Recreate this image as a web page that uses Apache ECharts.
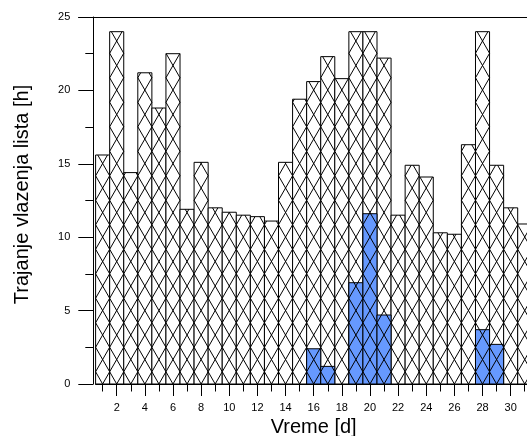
<!DOCTYPE html>
<html>
<head>
<meta charset="utf-8">
<script src="https://cdn.jsdelivr.net/npm/echarts@6/dist/echarts.min.js"></script>
<style>
  html, body { margin: 0; padding: 0; background: #fff; }
  #chart { width: 527px; height: 436px; }
</style>
</head>
<body>
<div id="chart"></div>
<script>
// Days of the month
const days = ['1', '2', '3', '4', '5', '6', '7', '8', '9', '10', '11', '12', '13', '14', '15', '16',
              '17', '18', '19', '20', '21', '22', '23', '24', '25', '26', '27', '28', '29', '30', '31'];

// Leaf wetness duration per day [h]
const wetnessHours = [15.6, 24.0, 14.4, 21.2, 18.8, 22.5, 11.9, 15.1, 12.0, 11.7, 11.5, 11.4, 11.1, 15.1, 19.4, 20.6,
                      22.3, 20.8, 24.0, 24.0, 22.2, 11.5, 14.9, 14.1, 10.3, 10.2, 16.3, 24.0, 14.9, 12.0, 10.9];

// Highlighted part of the wetness duration [h]
const highlightHours = [null, null, null, null, null, null, null, null, null, null, null, null, null, null, null, 2.4,
                        1.2, null, 6.9, 11.6, 4.7, null, null, null, null, null, null, 3.7, 2.7, null, null];

// Y axis range and step
const yMin = 0, yMax = 25, yStep = 5;

// Layout
const W = 527, H = 436;
const GRID_LEFT = 95.6, GRID_TOP = 17, GRID_BOTTOM = 52;
const BAND = 14.07;
const GRID_RIGHT = W - GRID_LEFT - BAND * days.length;
const AXIS_SHIFT = 2.3;
const HATCH_PERIOD = 24.5;   // vertical repeat of the cross-hatch
const FONT = 'Liberation Sans, Arial, sans-serif';

// [dayIndex, hours] pairs for the custom bar series
const toPairs = (arr) => arr.map((v, i) => (v == null ? null : [i, v])).filter(Boolean);

// Clip a segment to the vertical span [yTop, yBot]
function clipSegment(x1, y1, x2, y2, yTop, yBot) {
  const dy = y2 - y1;
  let t0 = 0, t1 = 1;
  if (dy === 0) {
    if (y1 < yTop || y1 > yBot) return null;
  } else {
    const ta = (yTop - y1) / dy, tb = (yBot - y1) / dy;
    t0 = Math.max(0, Math.min(ta, tb));
    t1 = Math.min(1, Math.max(ta, tb));
    if (t1 <= t0) return null;
  }
  const dx = x2 - x1;
  return { x1: x1 + dx * t0, y1: y1 + dy * t0, x2: x1 + dx * t1, y2: y1 + dy * t1 };
}

// Bar filled with a cross-hatch; the lattice is anchored on the baseline,
// so the lines run on continuously from one bar to the next
function hatchedBar(bg) {
  return function (params, api) {
    const idx = api.value(0);
    const val = api.value(1);
    const base = api.coord([idx, 0]);
    const top = api.coord([idx, val]);
    const w = api.size([1, 0])[0];
    const L = base[0] - w / 2, R = L + w;
    const yb = base[1], yt = top[1];
    const P = HATCH_PERIOD;
    const children = [{
      type: 'rect',
      shape: { x: L, y: yt, width: w, height: yb - yt },
      style: { fill: bg, stroke: null }
    }];
    const kMax = Math.ceil((yb - yt) / P) + 1;
    for (let k = -1; k <= kMax; k++) {
      const c = yb - P * k;
      const a = clipSegment(L, c - P / 2, R, c + P / 2, yt, yb);
      const b = clipSegment(L, c + P / 2, R, c - P / 2, yt, yb);
      if (a) children.push({ type: 'line', shape: a, style: { stroke: '#000', lineWidth: 1 } });
      if (b) children.push({ type: 'line', shape: b, style: { stroke: '#000', lineWidth: 1 } });
    }
    children.push({
      type: 'rect',
      shape: { x: L, y: yt, width: w, height: yb - yt },
      style: { fill: null, stroke: '#000', lineWidth: 1 }
    });
    return { type: 'group', children: children };
  };
}

const isEven = (i) => (i + 1) % 2 === 0;
const isOdd = (i) => (i + 1) % 2 === 1;

const chart = echarts.init(document.getElementById('chart'), null, { renderer: 'canvas' });
chart.setOption({
  animation: false,
  backgroundColor: '#fff',
  textStyle: { fontFamily: FONT },
  grid: {
    left: GRID_LEFT, top: GRID_TOP, bottom: GRID_BOTTOM, right: GRID_RIGHT,
    containLabel: false, outerBoundsMode: 'none'
  },
  xAxis: [
    {
      type: 'category',
      data: days,
      position: 'bottom',
      boundaryGap: true,
      axisLine: { show: true, lineStyle: { color: '#000', width: 1 } },
      axisTick: { show: true, alignWithLabel: true, length: 12, interval: isEven, lineStyle: { color: '#000' } },
      axisLabel: { show: true, interval: isEven, margin: 18, fontSize: 11, color: '#000', fontFamily: FONT },
      splitLine: { show: false },
      name: 'Vreme [d]',
      nameLocation: 'middle',
      nameGap: 30,
      nameTextStyle: { fontSize: 20, color: '#000', fontFamily: FONT }
    },
    {
      type: 'category',
      data: days,
      position: 'bottom',
      boundaryGap: true,
      axisLine: { show: false },
      axisTick: { show: true, alignWithLabel: true, length: 7.5, interval: isOdd, lineStyle: { color: '#000' } },
      axisLabel: { show: false },
      splitLine: { show: false }
    }
  ],
  yAxis: {
    type: 'value',
    min: yMin, max: yMax, interval: yStep,
    offset: AXIS_SHIFT,
    axisLine: { show: true, lineStyle: { color: '#000', width: 1 } },
    axisTick: { show: true, length: 15, lineStyle: { color: '#000' } },
    minorTick: { show: true, splitNumber: 2, length: 8, lineStyle: { color: '#000' } },
    splitLine: { show: false },
    axisLabel: { margin: 23, fontSize: 11, color: '#000', fontFamily: FONT },
    name: 'Trajanje vlazenja lista [h]',
    nameLocation: 'middle',
    nameGap: 61,
    nameTextStyle: { fontSize: 20, color: '#000', fontFamily: FONT, padding: [0, 0, 0, 12] }
  },
  graphic: [
    {
      // top frame line, continuing from the top tick of the value axis
      type: 'line', silent: true, z: 10,
      shape: { x1: GRID_LEFT - AXIS_SHIFT - 15, y1: GRID_TOP + 0.5, x2: W, y2: GRID_TOP + 0.5 },
      style: { stroke: '#000', lineWidth: 1 }
    }
  ],
  series: [
    {
      name: 'wetness',
      type: 'custom',
      xAxisIndex: 0,
      yAxisIndex: 0,
      data: toPairs(wetnessHours),
      encode: { x: 0, y: 1 },
      renderItem: hatchedBar('#ffffff'),
      silent: true
    },
    {
      name: 'highlight',
      type: 'custom',
      xAxisIndex: 0,
      yAxisIndex: 0,
      data: toPairs(highlightHours),
      encode: { x: 0, y: 1 },
      renderItem: hatchedBar('#6699ff'),
      silent: true
    }
  ]
});
</script>
</body>
</html>
